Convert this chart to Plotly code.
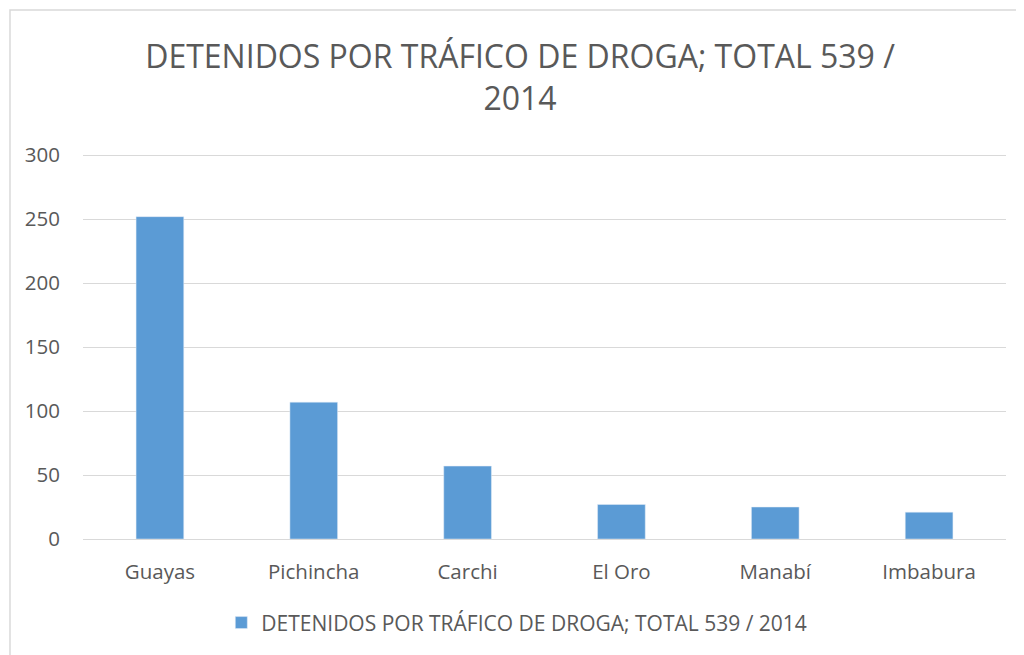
import plotly.graph_objects as go

provincias = ["Guayas", "Pichincha", "Carchi", "El Oro", "Manabí", "Imbabura"]
detenidos = [252, 107, 57, 27, 25, 21]
serie = "DETENIDOS POR TRÁFICO DE DROGA; TOTAL 539 / 2014"
titulo = "DETENIDOS POR TRÁFICO DE DROGA; TOTAL 539 /<br>2014"

fig = go.Figure()
fig.add_trace(go.Bar(x=provincias, y=detenidos, name=serie,
                     marker=dict(color="#5b9bd5"), width=0.31))

# the page body adds an 8px margin, so the figure is a little smaller
fig.update_layout(
    width=1016, height=647,
    paper_bgcolor="white", plot_bgcolor="white",
    font=dict(family="Open Sans", color="#595959", size=20),
    title=dict(text=titulo, x=0.504, xanchor="center", yref="container",
               y=0.907, yanchor="middle",
               font=dict(size=32, color="#595959")),
    margin=dict(l=75, r=18, t=146, b=116, autoexpand=False),
    showlegend=True,
    legend=dict(orientation="h", x=0.47, xanchor="center", y=-0.218, yanchor="middle",
                font=dict(size=21), itemwidth=30),
)
fig.update_yaxes(range=[0, 301], tickvals=[0, 50, 100, 150, 200, 250, 300],
                 gridcolor="#d9d9d9", gridwidth=1,
                 zeroline=True, zerolinecolor="#d9d9d9", zerolinewidth=1,
                 showline=False, ticks="", ticklabelstandoff=22,
                 tickfont=dict(size=20.5, color="#595959"))
fig.update_xaxes(showline=False, ticks="", ticklabelstandoff=18,
                 tickfont=dict(size=20.5, color="#595959"))
fig.add_shape(type="rect", xref="paper", yref="paper",
              x0=-0.0791, x1=1.0173, y0=-0.4, y1=1.374,
              line=dict(color="#d9d9d9", width=1.5), layer="below")

fig.write_html("out.html")
